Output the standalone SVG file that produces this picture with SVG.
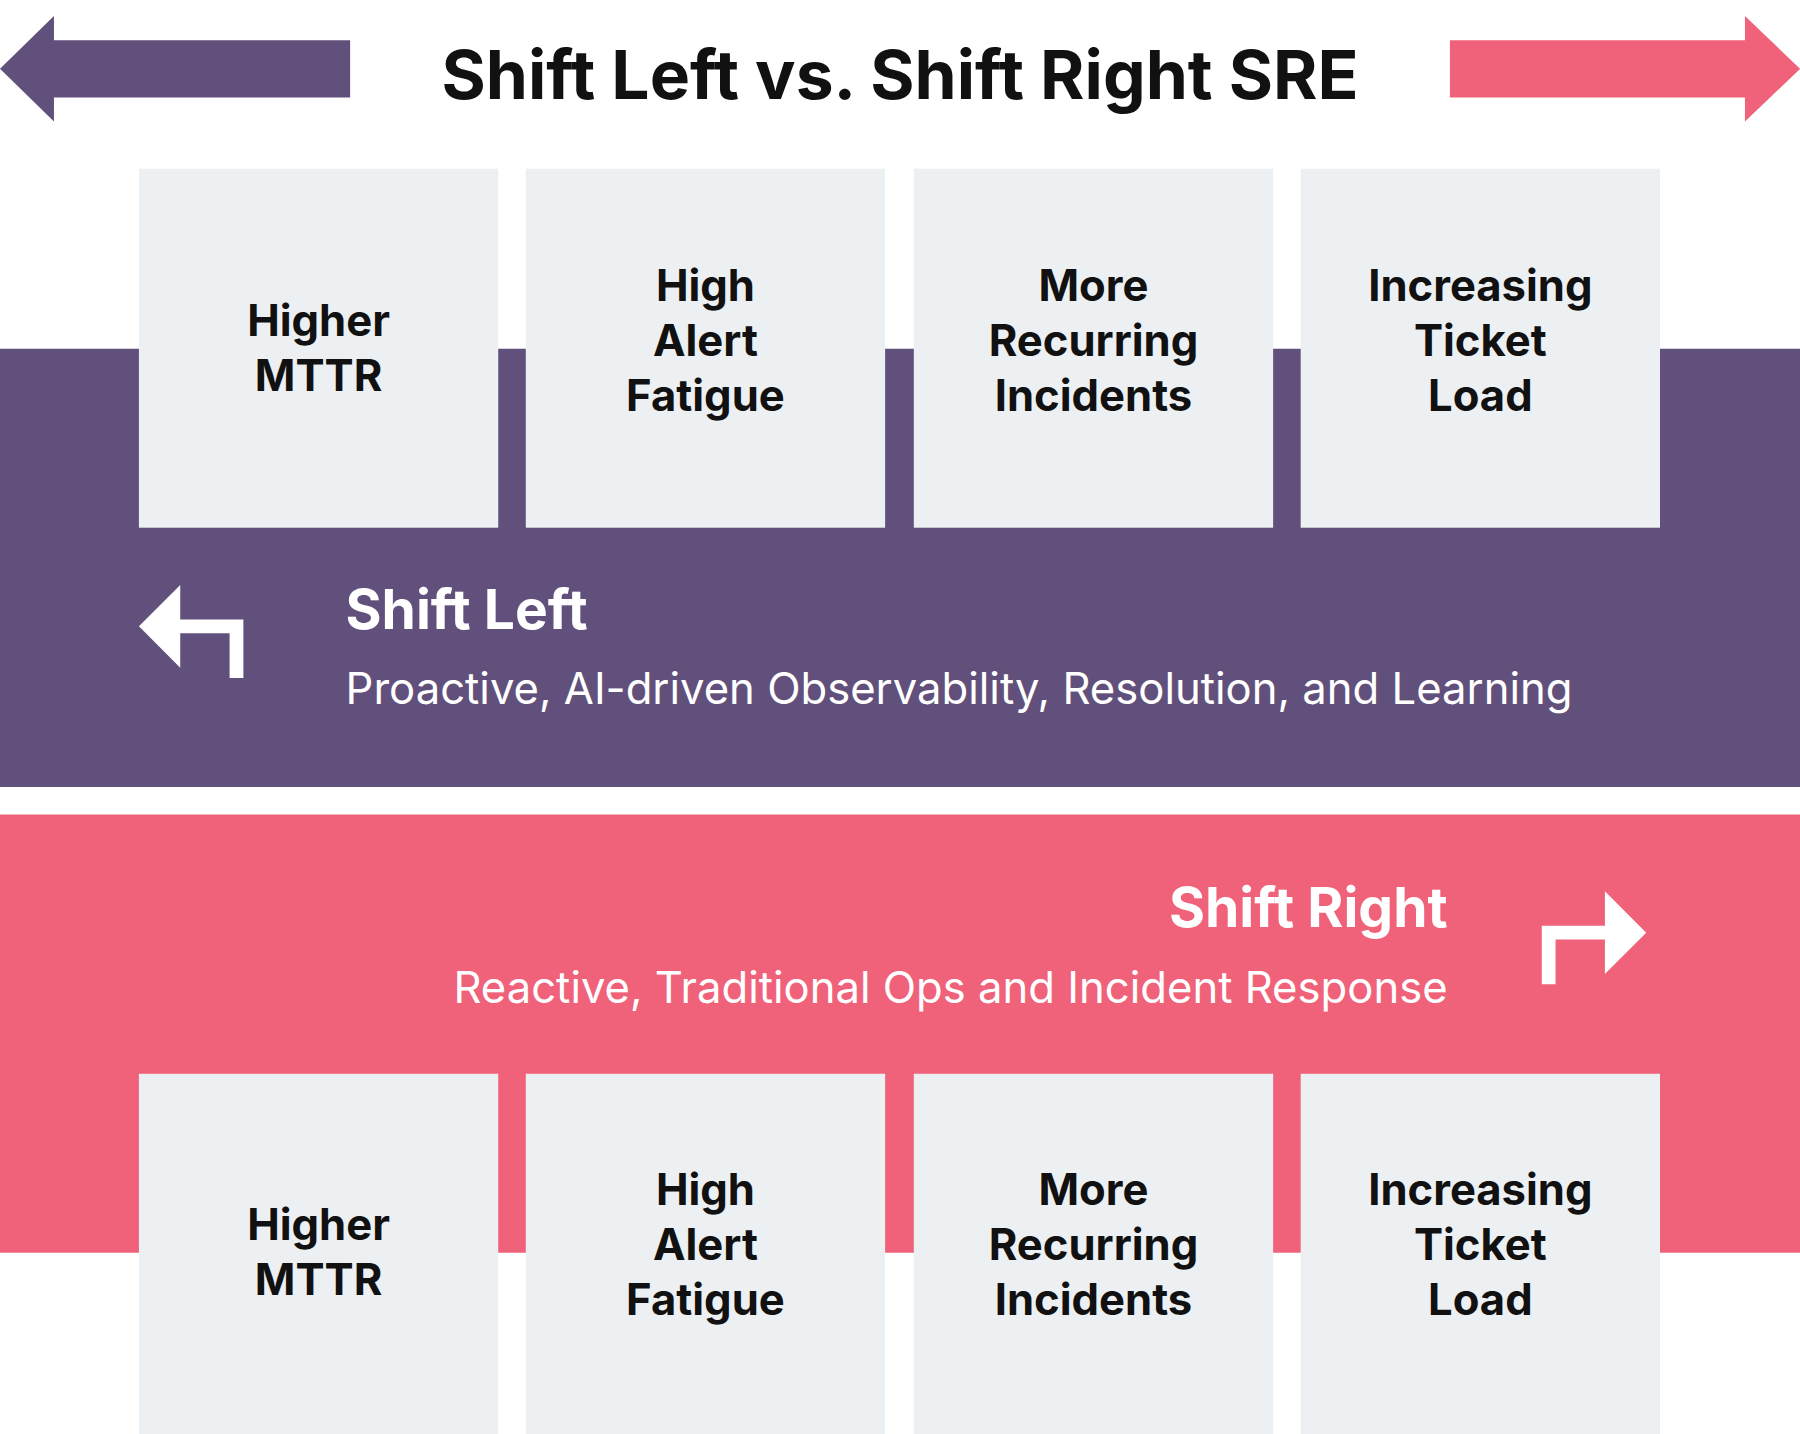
<svg xmlns="http://www.w3.org/2000/svg" width="1800" height="1434" viewBox="0 0 1800 1434">
<style>
.box{fill:#edf0f3}
.bl{font-family:Inter,"Liberation Sans",sans-serif;font-weight:700;font-size:38px;fill:#111;text-anchor:middle}
.h{font-family:Inter,"Liberation Sans",sans-serif;font-weight:700;font-size:48px;fill:#fff}
.s{font-family:Inter,"Liberation Sans",sans-serif;font-size:38px;fill:#fff}
</style>
<rect width="1800" height="1434" fill="#fff"/>
<g transform="scale(1.148,1.1472)">
<g id="title">
<polygon points="0,60 47,14 47,35 305,35 305,85 47,85 47,106" fill="#62507c"/>
<polygon points="1568,60 1520,14 1520,35 1263,35 1263,85 1520,85 1520,106" fill="#f0627a"/>
<text x="784" y="86" font-family="Inter,'Liberation Sans',sans-serif" font-weight="700" font-size="59" fill="#111" text-anchor="middle">Shift Left vs. Shift Right SRE</text>
</g>
<g id="shift-left">
<rect x="0" y="304" width="1568" height="382" fill="#62507c"/>
<polygon points="121,546 157,510 157,540 212,540 212,591 200,591 200,552 157,552 157,582" fill="#fff"/>
<text class="h" x="301" y="548">Shift Left</text>
<text class="s" x="301" y="614">Proactive, AI-driven Observability, Resolution, and Learning</text>
</g>
<g id="shift-right">
<rect x="0" y="710" width="1568" height="382" fill="#f0627a"/>
<polygon points="1434,813 1398,777 1398,807 1343,807 1343,858 1355,858 1355,819 1398,819 1398,849" fill="#fff"/>
<text class="h" x="1261" y="808" text-anchor="end">Shift Right</text>
<text class="s" x="1261" y="874" text-anchor="end">Reactive, Traditional Ops and Incident Response</text>
</g>
<g id="top-boxes">
<g id="t1"><rect class="box" x="121" y="147" width="313" height="313"/><text class="bl" x="277.5" y="293">Higher</text><text class="bl" x="277.5" y="341">MTTR</text></g>
<g id="t2"><rect class="box" x="458" y="147" width="313" height="313"/><text class="bl" x="614.5" y="262">High</text><text class="bl" x="614.5" y="310">Alert</text><text class="bl" x="614.5" y="358">Fatigue</text></g>
<g id="t3"><rect class="box" x="796" y="147" width="313" height="313"/><text class="bl" x="952.5" y="262">More</text><text class="bl" x="952.5" y="310">Recurring</text><text class="bl" x="952.5" y="358">Incidents</text></g>
<g id="t4"><rect class="box" x="1133" y="147" width="313" height="313"/><text class="bl" x="1289.5" y="262">Increasing</text><text class="bl" x="1289.5" y="310">Ticket</text><text class="bl" x="1289.5" y="358">Load</text></g>
</g>
<g id="bottom-boxes">
<g id="b1"><rect class="box" x="121" y="936" width="313" height="320"/><text class="bl" x="277.5" y="1081">Higher</text><text class="bl" x="277.5" y="1129">MTTR</text></g>
<g id="b2"><rect class="box" x="458" y="936" width="313" height="320"/><text class="bl" x="614.5" y="1050">High</text><text class="bl" x="614.5" y="1098">Alert</text><text class="bl" x="614.5" y="1146">Fatigue</text></g>
<g id="b3"><rect class="box" x="796" y="936" width="313" height="320"/><text class="bl" x="952.5" y="1050">More</text><text class="bl" x="952.5" y="1098">Recurring</text><text class="bl" x="952.5" y="1146">Incidents</text></g>
<g id="b4"><rect class="box" x="1133" y="936" width="313" height="320"/><text class="bl" x="1289.5" y="1050">Increasing</text><text class="bl" x="1289.5" y="1098">Ticket</text><text class="bl" x="1289.5" y="1146">Load</text></g>
</g>
</g>
<g id="connectors"/>
</svg>
